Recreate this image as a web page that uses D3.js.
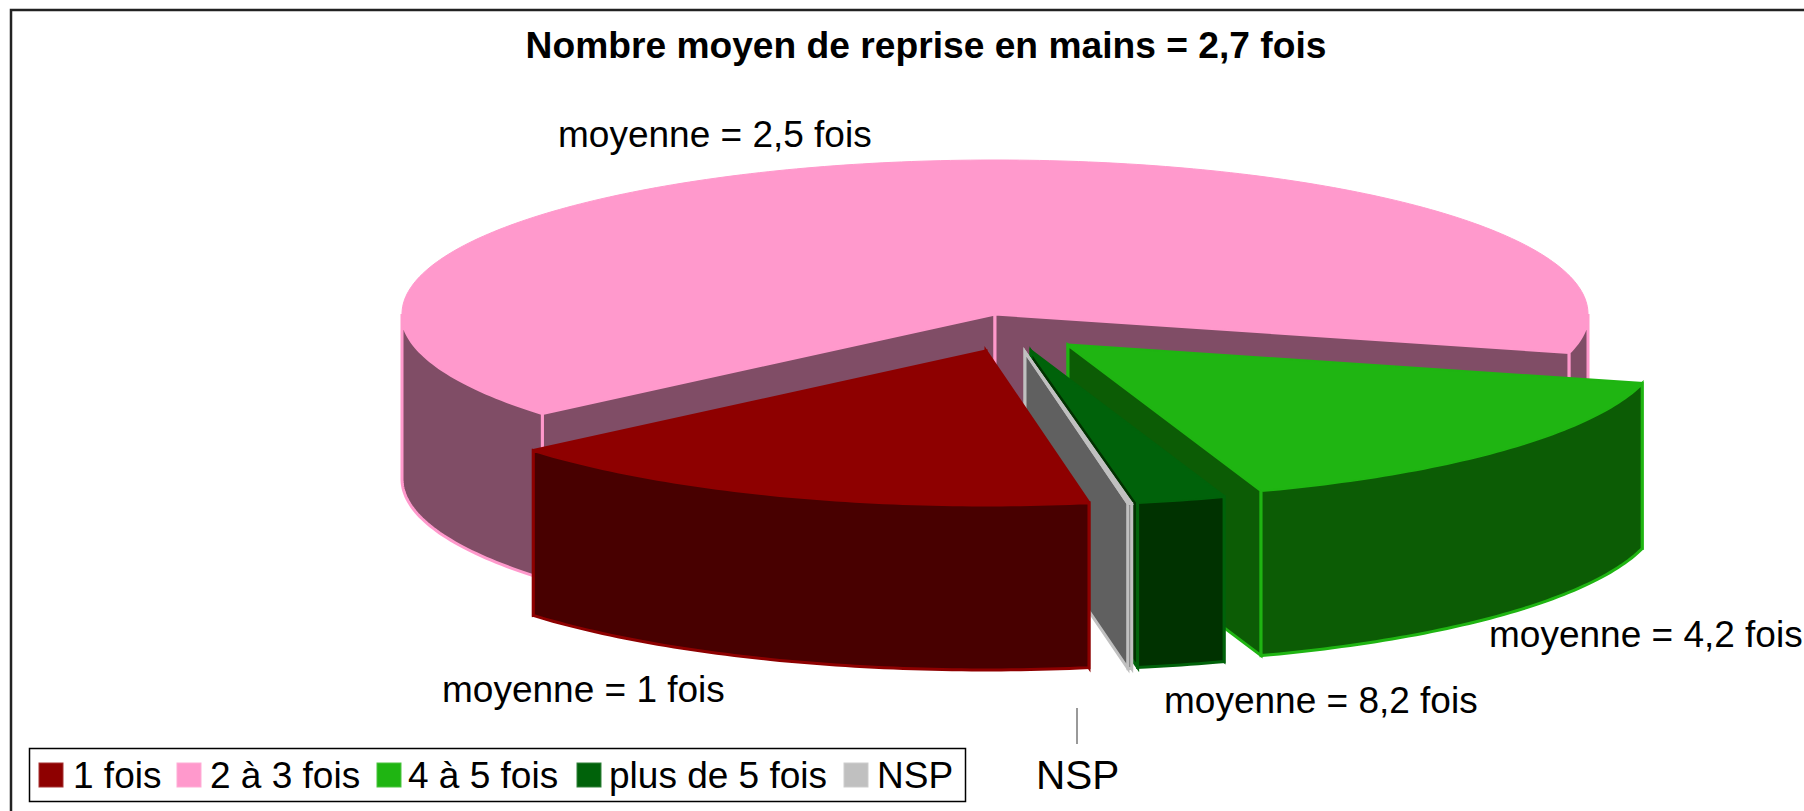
<!DOCTYPE html>
<html>
<head>
<meta charset="utf-8">
<script src="https://cdn.jsdelivr.net/npm/d3@7"></script>
<style>
    body { margin: 0; background: #fff; }
    svg { display: block; }
    text { font-family: "Liberation Sans", Arial, sans-serif; fill: #000; }
</style>
</head>
<body>
<svg class="pie" width="1804" height="811"></svg>
<script>
const categories = ['1 fois', '2 à 3 fois', '4 à 5 fois', 'plus de 5 fois', 'NSP'];
const shares = [16.6, 65.2, 15.7, 2.4, 0.1];
const colors = ['#8e0000', '#ff99cc', '#1fb512', '#00620a', '#c0c0c0'];
const wallColors = ['#480000', '#804d66', '#0c5c05', '#003200', '#606060'];
const meanLabels = ['moyenne = 1 fois', 'moyenne = 2,5 fois', 'moyenne = 4,2 fois', 'moyenne = 8,2 fois', 'NSP'];
const title = 'Nombre moyen de reprise en mains = 2,7 fois';

const w = 1804;
const h = 811;
const cx = 995;
const cy = 314;
const rx = 593;
const ry = 154;
const depth = 165;

// slice displacement in px, same order as categories
const offsets = [[-9, 37], [0, 0], [73, 31], [36, 37], [30, 38]];
// draw back to front
const drawOrder = [1, 2, 3, 4, 0];

const scaleX = d3.scaleLinear().domain([-1, 1]).range([cx - rx, cx + rx]);
const scaleY = d3.scaleLinear().domain([-1, 1]).range([cy - ry, cy + ry]);

const slices = d3.pie().sort(null).startAngle(170 * Math.PI / 180).endAngle(530 * Math.PI / 180)(shares);

// d3.pie has 0 at 12 o'clock, the ellipse has 0 at 3 o'clock
const rim = (a, off, drop = 0) => [
    scaleX(Math.sin(a)) + off[0],
    scaleY(-Math.cos(a)) + off[1] + drop
];
const apex = (off, drop = 0) => [scaleX(0) + off[0], scaleY(0) + off[1] + drop];

const sample = (a0, a1) => {
    const n = Math.max(2, Math.ceil(Math.abs(a1 - a0) * 60));
    return d3.range(n + 1).map(i => a0 + (a1 - a0) * i / n);
};

const line = d3.line();

const svg = d3.select('svg.pie').attr('width', w).attr('height', h);

// chart frame, only top and left show in the picture
svg.append('path')
    .attr('d', `M11,${h}V10H${w}`)
    .attr('fill', 'none')
    .attr('stroke', '#222')
    .attr('stroke-width', 2.5);

const drawSlice = i => {
    const s = slices[i];
    const off = offsets[i];
    const g = svg.append('g');
    const color = colors[i];

    const face = pts => g.append('path')
        .attr('d', line(pts) + 'Z')
        .attr('fill', wallColors[i])
        .attr('stroke', color)
        .attr('stroke-width', 3)
        .attr('stroke-linejoin', 'miter');

    // cut walls
    [s.startAngle, s.endAngle].forEach(a => {
        face([apex(off), rim(a, off), rim(a, off, depth), apex(off, depth)]);
    });

    // outer wall, only the part that faces the viewer (90deg..270deg in pie angles)
    [[90, 270], [450, 630]].forEach(([lo, hi]) => {
        const a0 = Math.max(s.startAngle, lo * Math.PI / 180);
        const a1 = Math.min(s.endAngle, hi * Math.PI / 180);
        if (a1 <= a0) return;
        const angles = sample(a0, a1);
        face(angles.map(a => rim(a, off)).concat(angles.reverse().map(a => rim(a, off, depth))));
    });

    // top
    g.append('path')
        .attr('d', line([apex(off)].concat(sample(s.startAngle, s.endAngle).map(a => rim(a, off)))) + 'Z')
        .attr('fill', color)
        .attr('stroke', color)
        .attr('stroke-width', i === 4 ? 2.5 : 1);
};

drawOrder.forEach(drawSlice);

// title and slice labels
svg.append('text')
    .attr('x', 926)
    .attr('y', 58)
    .attr('text-anchor', 'middle')
    .attr('font-weight', 'bold')
    .attr('font-size', 37.2)
    .text(title);

const labelPos = [[442, 702], [558, 147], [1489, 647], [1164, 713], [1036, 789]];
const labelSize = [37, 37, 37, 37, 40.5];
svg.selectAll('text.mean')
    .data(meanLabels)
    .enter()
    .append('text')
    .attr('class', 'mean')
    .attr('x', (d, i) => labelPos[i][0])
    .attr('y', (d, i) => labelPos[i][1])
    .attr('font-size', (d, i) => labelSize[i])
    .text(d => d);

// NSP leader
svg.append('line')
    .attr('x1', 1077).attr('x2', 1077)
    .attr('y1', 708).attr('y2', 744)
    .attr('stroke', '#777')
    .attr('stroke-width', 1.5);

// legend
svg.append('rect')
    .attr('x', 29.5).attr('y', 748.5)
    .attr('width', 936).attr('height', 53)
    .attr('fill', '#fff')
    .attr('stroke', '#000')
    .attr('stroke-width', 1.5);

const swatchX = [39, 177, 377, 577, 844];
const legendTextX = [73, 210, 408, 609, 877];
const legend = svg.selectAll('g.legend')
    .data(categories)
    .enter()
    .append('g')
    .attr('class', 'legend');

legend.append('rect')
    .attr('x', (d, i) => swatchX[i])
    .attr('y', 763)
    .attr('width', 24)
    .attr('height', 24)
    .attr('fill', (d, i) => colors[i])
    .attr('stroke', (d, i) => d3.interpolateRgb(colors[i], '#fff')(0.2))
    .attr('stroke-width', 1);

legend.append('text')
    .attr('x', (d, i) => legendTextX[i])
    .attr('y', 788)
    .attr('font-size', 37)
    .text(d => d);
</script>
</body>
</html>
